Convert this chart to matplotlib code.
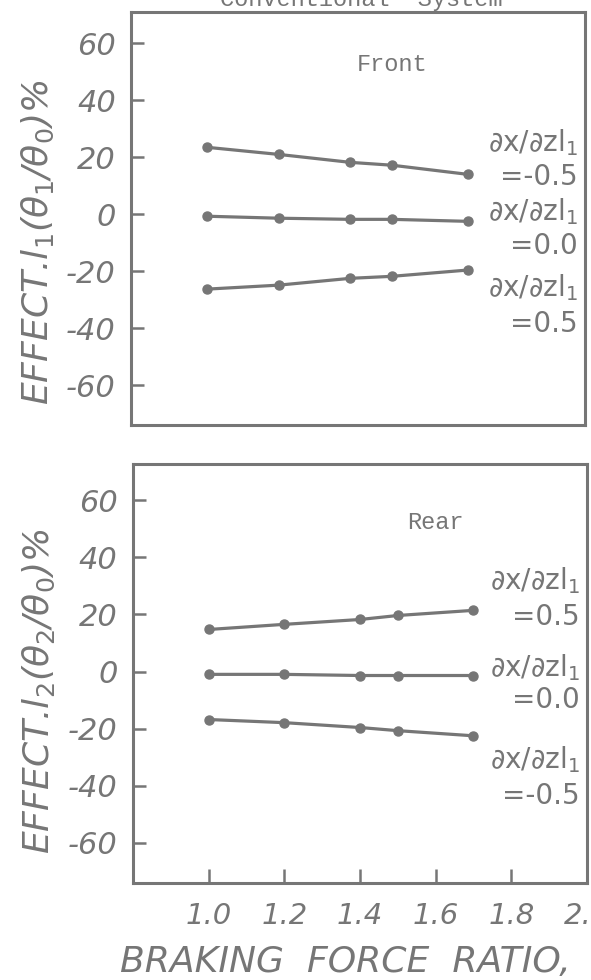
import matplotlib
matplotlib.use("Agg")
import matplotlib.pyplot as plt

plt.rcParams["axes.unicode_minus"] = False

# braking force ratio at the measured points
front_x = [1.0, 1.19, 1.38, 1.49, 1.69]
rear_x = [1.0, 1.2, 1.4, 1.5, 1.7]

# front wheel effect, one list per dx/dz value
front_neg = [23.5, 21.0, 18.2, 17.2, 14.0]
front_zero = [-0.7, -1.4, -1.8, -1.8, -2.5]
front_pos = [-26.3, -24.9, -22.5, -21.8, -19.6]

# rear wheel effect
rear_pos = [14.7, 16.5, 18.2, 19.6, 21.4]
rear_zero = [-1.0, -1.0, -1.4, -1.4, -1.4]
rear_neg = [-16.8, -17.9, -19.6, -20.7, -22.5]

yticks = [60, 40, 20, 0, -20, -40, -60]
xticks = [1.0, 1.2, 1.4, 1.6, 1.8, 2.0]
xticklabels = ["1.0", "1.2", "1.4", "1.6", "1.8", "2.0"]

ink = "#767676"
mono = "Liberation Mono"

fig = plt.figure(figsize=(5.91, 9.80), dpi=100)
fig.patch.set_facecolor("white")

ax1 = fig.add_axes([0.2217, 0.5663, 0.7681, 0.4215])
ax2 = fig.add_axes([0.2250, 0.0990, 0.7682, 0.4275])


def style_axes(ax, ylim, show_x):
    ax.set_xlim(0.8, 2.0)
    ax.set_ylim(*ylim)
    for s in ax.spines.values():
        s.set_color(ink)
        s.set_linewidth(2.2)
    ax.set_yticks(yticks)
    ax.set_yticklabels([str(t) for t in yticks], fontsize=22, style="italic", color=ink)
    ax.tick_params(axis="y", direction="in", length=9, width=1.8, color=ink, pad=11)
    if show_x:
        ax.set_xticks(xticks)
        ax.set_xticklabels(xticklabels, fontsize=21, style="italic", color=ink)
        ax.tick_params(axis="x", direction="in", length=10, width=1.8, color=ink, pad=14)
    else:
        ax.set_xticks([])


def draw_series(ax, xs, ys):
    ax.plot(xs, ys, color=ink, linewidth=2.3, marker="o", markersize=6.5,
            markerfacecolor=ink, markeredgecolor=ink, clip_on=False)


def label(ax, y1, y2, value):
    ax.text(1.98, y1, "∂x/∂zl$_1$", ha="right", va="center", fontsize=20, color=ink)
    ax.text(1.98, y2, "=" + value, ha="right", va="center", fontsize=20, color=ink)


# front panel
style_axes(ax1, (-74, 71), False)
draw_series(ax1, front_x, front_neg)
draw_series(ax1, front_x, front_zero)
draw_series(ax1, front_x, front_pos)
ax1.text(1.49, 52.6, "Front", ha="center", va="center", fontsize=17, family=mono, color=ink)
label(ax1, 25.0, 13.0, "-0.5")
label(ax1, 0.8, -11.0, "0.0")
label(ax1, -25.6, -38.6, "0.5")
fig.text(0.0643, 0.753, "EFFECT.l$_1$($\\theta_1$/$\\theta_0$)%", fontsize=26, style="italic",
         color=ink, rotation=90, ha="center", va="center")

# rear panel
style_axes(ax2, (-74, 72.6), True)
draw_series(ax2, rear_x, rear_pos)
draw_series(ax2, rear_x, rear_zero)
draw_series(ax2, rear_x, rear_neg)
ax2.text(1.60, 52.1, "Rear", ha="center", va="center", fontsize=17, family=mono, color=ink)
label(ax2, 31.8, 18.9, "0.5")
label(ax2, 1.4, -10.1, "0.0")
label(ax2, -30.8, -43.4, "-0.5")
fig.text(0.0660, 0.294, "EFFECT.l$_2$($\\theta_2$/$\\theta_0$)%", fontsize=26, style="italic",
         color=ink, rotation=90, ha="center", va="center")

fig.text(0.203, 0.0184, "BRAKING  FORCE  RATIO,", fontsize=26, style="italic",
         color=ink, ha="left", va="center")
fig.text(0.372, 1.001, "Conventional  System", fontsize=17, family=mono, color=ink,
         ha="left", va="center")

fig.savefig("out.png", dpi=100, facecolor="white")
